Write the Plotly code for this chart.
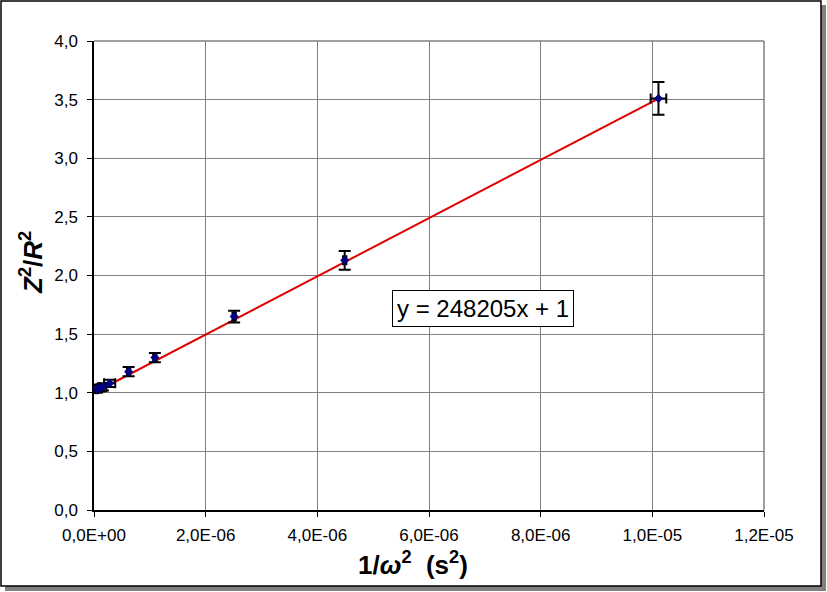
import plotly.graph_objects as go

# measured points: 1/omega^2 (s^2) vs Z^2/R^2
inv_omega2 = [0.5e-7, 1.0e-7, 1.6e-7, 2.8e-7, 6.2e-7, 1.09e-6, 2.51e-6, 4.49e-6, 1.011e-5]
z2_r2 = [1.03, 1.04, 1.05, 1.08, 1.18, 1.30, 1.65, 2.13, 3.51]
err_y = [0.03, 0.03, 0.03, 0.03, 0.04, 0.04, 0.05, 0.08, 0.14]
err_x = [0.2e-7, 0.4e-7, 0.6e-7, 1.0e-7, 0.3e-7, 0.3e-7, 0.3e-7, 0.3e-7, 1.4e-7]

# trendline shown on the chart
slope = 248205
intercept = 1
fit_x = [0.0, 1.011e-5]
fit_y = [slope * x + intercept for x in fit_x]

x_tickvals = [0, 2e-6, 4e-6, 6e-6, 8e-6, 1e-5, 1.2e-5]
x_ticktext = ["0,0E+00", "2,0E-06", "4,0E-06", "6,0E-06", "8,0E-06", "1,0E-05", "1,2E-05"]
y_tickvals = [0, 0.5, 1.0, 1.5, 2.0, 2.5, 3.0, 3.5, 4.0]
y_ticktext = ["0,0", "0,5", "1,0", "1,5", "2,0", "2,5", "3,0", "3,5", "4,0"]

W, H = 827, 592
ml, mr, mt, mb = 94, 63, 41, 82
pw, ph = W - ml - mr, H - mt - mb


def px_x(p):
    return (p - ml) / pw


def px_y(p):
    return (H - mb - p) / ph


fig = go.Figure()
fig.add_trace(
    go.Scatter(
        x=fit_x,
        y=fit_y,
        mode="lines",
        line=dict(color="#e00000", width=2),
        hoverinfo="skip",
        showlegend=False,
    )
)
fig.add_trace(
    go.Scatter(
        x=inv_omega2,
        y=z2_r2,
        mode="markers",
        marker=dict(symbol="diamond", size=7, color="#000080"),
        error_y=dict(type="data", array=err_y, color="black", thickness=2, width=6),
        error_x=dict(type="data", array=err_x, color="black", thickness=2, width=5),
        showlegend=False,
    )
)

tick_font = dict(family="Liberation Sans, Arial", size=17, color="black")
fig.update_xaxes(
    range=[0, 1.2e-5],
    tickvals=x_tickvals,
    ticktext=x_ticktext,
    tickfont=tick_font,
    ticklabelstandoff=4,
    showgrid=True,
    gridcolor="#808080",
    gridwidth=1,
    showline=True,
    linecolor="black",
    linewidth=1.5,
    ticks="outside",
    ticklen=5,
    tickcolor="black",
    zeroline=False,
)
fig.update_yaxes(
    range=[0, 4.0],
    tickvals=y_tickvals,
    ticktext=y_ticktext,
    tickfont=tick_font,
    ticklabelstandoff=6,
    showgrid=True,
    gridcolor="#808080",
    gridwidth=1,
    showline=True,
    linecolor="black",
    linewidth=1.5,
    ticks="outside",
    ticklen=5,
    tickcolor="black",
    zeroline=False,
)

title_font = dict(family="Liberation Sans, Arial", size=26, color="black")
fig.update_layout(
    width=W,
    height=H,
    margin=dict(l=ml, r=mr, t=mt, b=mb),
    paper_bgcolor="white",
    plot_bgcolor="#ffffcc",
    shapes=[
        # gray frame top/right of plot area
        dict(type="line", xref="paper", yref="paper", x0=0, x1=1, y0=1, y1=1,
             line=dict(color="#808080", width=1.5)),
        dict(type="line", xref="paper", yref="paper", x0=1, x1=1, y0=0, y1=1,
             line=dict(color="#808080", width=1.5)),
        # figure shadow and border
        dict(type="rect", xref="paper", yref="paper", x0=px_x(5), x1=px_x(826), y0=px_y(591), y1=px_y(5),
             line=dict(width=0), fillcolor="#808080", layer="below"),
        dict(type="rect", xref="paper", yref="paper", x0=px_x(1), x1=px_x(821), y0=px_y(586), y1=px_y(1),
             line=dict(color="black", width=1.5), fillcolor="white", layer="below"),
    ],
    annotations=[
        dict(
            x=6.97e-6,
            y=1.715,
            xref="x",
            yref="y",
            text="y = 248205x + 1",
            showarrow=False,
            font=dict(family="Liberation Sans, Arial", size=24, color="black"),
            bgcolor="white",
            bordercolor="black",
            borderwidth=1,
            borderpad=4,
        ),
        # axis titles
        dict(
            x=px_x(413),
            y=px_y(563),
            xref="paper",
            yref="paper",
            xanchor="center",
            yanchor="middle",
            text="<b>1/<i>ω</i><sup>2</sup>  (s<sup>2</sup>)</b>",
            showarrow=False,
            font=title_font,
        ),
        dict(
            x=px_x(31),
            y=px_y(263),
            xref="paper",
            yref="paper",
            xanchor="center",
            yanchor="middle",
            text="<b><i>Z</i><sup>2</sup>/<i>R</i><sup>2</sup></b>",
            textangle=-90,
            showarrow=False,
            font=title_font,
        ),
    ],
)

fig.write_html(
    "out.html",
    config={"displayModeBar": False},
    post_script="document.body.style.margin='0';document.body.style.overflow='hidden';",
)
